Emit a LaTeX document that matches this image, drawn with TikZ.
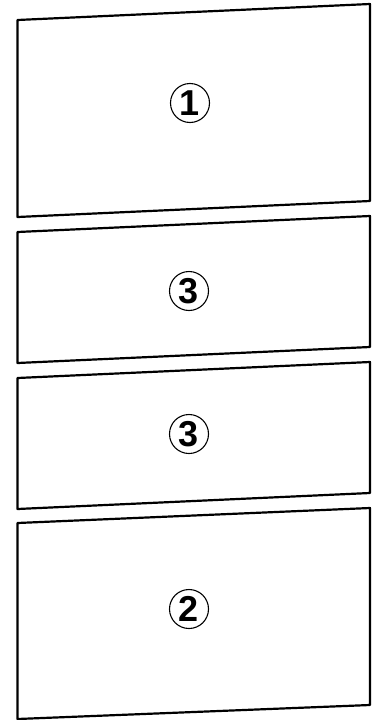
\documentclass[tikz,border=0pt]{standalone}
\usepackage{fontspec}
\setmainfont{Liberation Sans}
\usetikzlibrary{positioning}

\begin{document}
\begin{tikzpicture}[
  x=1pt, y=-1pt,
  panel/.style={draw=black, line width=2.2pt, line join=round},
  tag/.style={circle, draw=black, line width=1.1pt, minimum size=39pt, inner sep=0pt,
              font=\fontsize{36pt}{36pt}\selectfont\bfseries}
]
\useasboundingbox (0,0) rectangle (382,720);

% panels: top-left y, top-right y, bottom-right y, bottom-left y
\draw[panel] (17.5,20)  -- (370,4)   -- (370,201) -- (17.5,217) -- cycle;
\draw[panel] (17.5,232) -- (370,216) -- (370,347) -- (17.5,363) -- cycle;
\draw[panel] (17.5,378) -- (370,362) -- (370,493) -- (17.5,509) -- cycle;
\draw[panel] (17.5,523) -- (370,508) -- (370,705) -- (17.5,719) -- cycle;

\node[tag] (one)    at (190,103) {1};
\node[tag] (threea) at (189,291) {3};
\node[tag] (threeb) at (189,434) {3};
\node[tag] (two)    at (189,609) {2};
\end{tikzpicture}
\end{document}
